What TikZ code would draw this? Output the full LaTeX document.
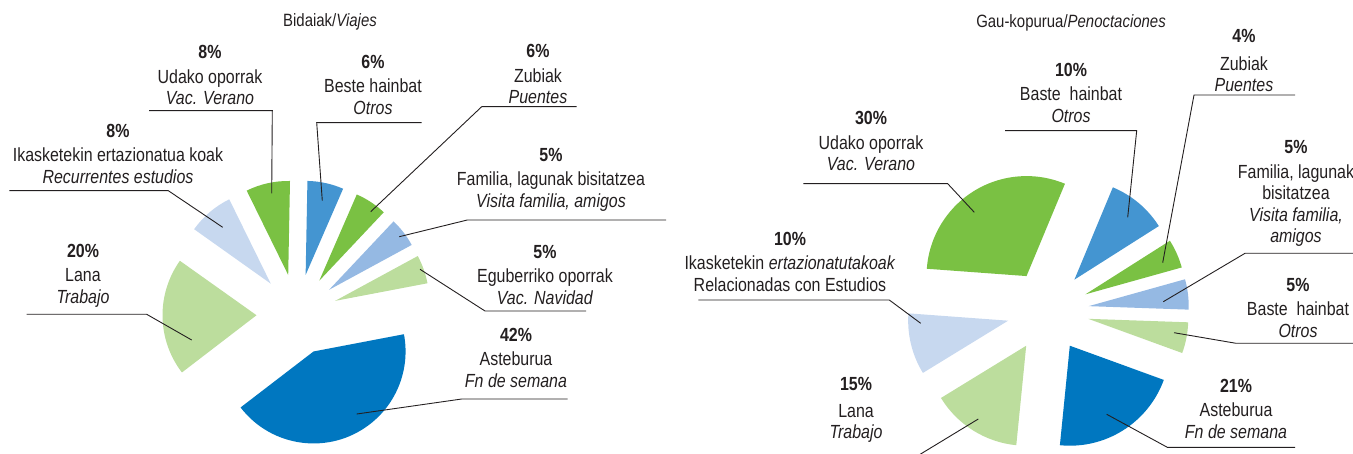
\documentclass[tikz,border=0pt]{standalone}
\usepackage{fontspec}
\setmainfont{Liberation Sans}[FakeStretch=0.84]
\usetikzlibrary{calc}

\definecolor{cDark}{HTML}{0077C0}
\definecolor{cMid}{HTML}{4495D1}
\definecolor{cGreen}{HTML}{7AC143}
\definecolor{cSky}{HTML}{95B9E3}
\definecolor{cPale}{HTML}{C7D8EF}
\definecolor{cLime}{HTML}{BCDD9D}
\definecolor{ink}{HTML}{231F20}

\tikzset{
  lab/.style={align=center, text=ink, inner sep=0pt,
    font=\fontsize{19}{21.5}\selectfont},
  ttl/.style={text=ink, inner sep=0pt, font=\fontsize{17.8}{20}\selectfont},
  leader/.style={draw=ink, line width=0.9pt}
}

% #1 centre, #2 shift, #3 start, #4 end, #5 radius, #6 colour
\newcommand{\Slice}[6]{%
  \fill[#6] ($(#1)+({(#3+#4)/2}:#2)$) -- ++(#3:#5)
    arc[start angle=#3, end angle=#4, radius=#5] -- cycle;}

\begin{document}
\begin{tikzpicture}[x=1pt,y=1pt]
  \useasboundingbox (0,0) rectangle (1353,453);

  \newcommand\Dl{40.5}
  \newcommand\Rl{94}
  \newcommand\Dr{41}
  \newcommand\Rr{100}

  \coordinate (cl) at (297,138.5);
  \coordinate (cr) at (1048,142);

  %% Bidaiak
  \Slice{cl}{\Dl}{10.8}{28.5}{\Rl}{cLime}    % Eguberri
  \Slice{cl}{\Dl}{28.5}{46.7}{\Rl}{cSky}     % Familia
  \Slice{cl}{\Dl}{46.7}{66.5}{\Rl}{cGreen}   % Zubiak
  \Slice{cl}{\Dl}{66.5}{88.9}{\Rl}{cMid}     % Beste
  \Slice{cl}{\Dl}{88.9}{116.2}{\Rl}{cGreen}  % Udako
  \Slice{cl}{\Dl}{116.2}{144.6}{\Rl}{cPale}  % Ikasketekin
  \Slice{cl}{\Dl}{144.6}{217.5}{\Rl}{cLime}  % Lana
  \Slice{cl}{\Dl}{217.5}{370.8}{92}{cDark}   % Asteburua

  %% Gau-kopurua
  \Slice{cr}{\Dr}{67.4}{175.8}{\Rr}{cGreen}  % Udako
  \Slice{cr}{\Dr}{175.8}{211.5}{\Rr}{cPale}  % Ikasketekin
  \Slice{cr}{\Dr}{211.5}{264.3}{\Rr}{cLime}  % Lana
  \Slice{cr}{\Dr}{264.3}{340}{\Rr}{cDark}    % Asteburua
  \Slice{cr}{\Dr}{340}{358}{\Rr}{cLime}      % Otros
  \Slice{cr}{\Dr}{358}{375.6}{\Rr}{cSky}     % Familia
  \Slice{cr}{\Dr}{375.6}{392.4}{\Rr}{cGreen} % Zubiak
  \Slice{cr}{\Dr}{392.4}{427.4}{\Rr}{cMid}   % Baste

  \node[ttl] (tl) at (330,431) {Bidaiak/\textit{Viajes}};
  \node[ttl] (tr) at (1071,430) {Gau-kopurua/\textit{Penoctaciones}};

  %% labels left
  \node[lab] (lu) at (210,378) {\textbf{8\%}\\[3pt] Udako oporrak\\ \textit{Vac. Verano}};
  \node[lab] (lo) at (373,368.3) {\textbf{6\%}\\[3pt] Beste hainbat\\ \textit{Otros}};
  \node[lab] (lz) at (538,378.8) {\textbf{6\%}\\[3pt] Zubiak\\ \textit{Puentes}};
  \node[lab] (lr) at (118,299.3) {\textbf{8\%}\\[3pt] Ikasketekin ertazionatua koak\\ \textit{Recurrentes estudios}};
  \node[lab] (lf) at (551,273.3) {\textbf{5\%}\\[3pt] Familia, lagunak bisitatzea\\ \textit{Visita familia, amigos}};
  \node[lab] (le) at (545,178.3) {\textbf{5\%}\\[3pt] Eguberriko oporrak\\ \textit{Vac. Navidad}};
  \node[lab] (ll) at (83,177.5) {\textbf{20\%}\\[3pt] Lana\\ \textit{Trabajo}};
  \node[lab] (la) at (516,95.5) {\textbf{42\%}\\[3pt] Asteburua\\ \textit{Fn de semana}};

  %% labels right
  \node[lab] (ru) at (871,311.7) {\textbf{30\%}\\[3pt] Udako oporrak\\ \textit{Vac. Verano}};
  \node[lab] (rb) at (1071,360.5) {\textbf{10\%}\\[3pt] Baste\ \ hainbat\\ \textit{Otros}};
  \node[lab] (rz) at (1244,392.2) {\textbf{4\%}\\[6pt] Zubiak\\ \textit{Puentes}};
  \node[lab] (rf) at (1296,259.2) {\textbf{5\%}\\[3pt] Familia, lagunak\\ bisitatzea\\ \textit{Visita familia,}\\ \textit{amigos}};
  \node[lab] (ri) at (790,191.3) {\textbf{10\%}\\[3pt] Ikasketekin \textit{ertazionatutakoak}\\ Relacionadas con Estudios};
  \node[lab] (ro) at (1298,145.5) {\textbf{5\%}\\[3pt] Baste\ \ hainbat\\ \textit{Otros}};
  \node[lab] (rl) at (856,42.7) {\textbf{15\%}\\[5pt] Lana\\ \textit{Trabajo}};
  \node[lab] (ra) at (1236,44.3) {\textbf{21\%}\\[3pt] Asteburua\\ \textit{Fn de semana}};

  %% leader points
  \coordinate (lu-a) at (149,342.3);   \coordinate (lu-b) at (272.3,342.3); \coordinate (lu-s) at (271.7,259.7);
  \coordinate (lo-a) at (421.7,330.3); \coordinate (lo-b) at (316.7,330.3); \coordinate (lo-s) at (322.3,252.3);
  \coordinate (lz-a) at (576.7,346.3); \coordinate (lz-b) at (481.7,346.3); \coordinate (lz-s) at (370.7,241.3);
  \coordinate (lr-a) at (9.3,262.3);   \coordinate (lr-b) at (168.3,262.3); \coordinate (lr-s) at (222.7,225.7);
  \coordinate (lf-a) at (666,233);     \coordinate (lf-b) at (467.3,233);   \coordinate (lf-s) at (399.3,216.3);
  \coordinate (le-a) at (586,142);     \coordinate (le-b) at (485,142);     \coordinate (le-s) at (420,183.7);
  \coordinate (ll-a) at (26.7,138.7);  \coordinate (ll-b) at (146.7,138.7); \coordinate (ll-s) at (191.7,113);
  \coordinate (la-a) at (567.7,54);    \coordinate (la-b) at (461.7,54);    \coordinate (la-s) at (356.7,39);

  \coordinate (ru-a) at (803.3,269.3); \coordinate (ru-b) at (947.7,269.3); \coordinate (ru-s) at (974.3,240.7);
  \coordinate (rb-a) at (1005,322.3);  \coordinate (rb-b) at (1136.7,322.3);\coordinate (rb-s) at (1127.7,235.7);
  \coordinate (rz-a) at (1295,358);    \coordinate (rz-b) at (1194,358);    \coordinate (rz-s) at (1162.7,190.3);
  \coordinate (rf-a) at (1353,199.7);  \coordinate (rf-b) at (1245,199.7);  \coordinate (rf-s) at (1163.3,151.3);
  \coordinate (ri-a) at (698.3,153);   \coordinate (ri-b) at (889.3,153);   \coordinate (ri-s) at (920.7,129.7);
  \coordinate (ro-a) at (1353,109.7);  \coordinate (ro-b) at (1236,109.7);  \coordinate (ro-s) at (1174,120.3);
  \coordinate (rl-b) at (919,-2);      \coordinate (rl-s) at (978.3,34);
  \coordinate (ra-a) at (1295,5.7);    \coordinate (ra-b) at (1167.3,5.7);  \coordinate (ra-s) at (1106.7,38.7);

  \draw[leader] (lu-a) -- (lu-b) -- (lu-s); % Udako
  \draw[leader] (lo-a) -- (lo-b) -- (lo-s); % Beste
  \draw[leader] (lz-a) -- (lz-b) -- (lz-s); % Zubiak
  \draw[leader] (lr-a) -- (lr-b) -- (lr-s); % Ikasketekin
  \draw[leader] (lf-a) -- (lf-b) -- (lf-s); % Familia
  \draw[leader] (le-a) -- (le-b) -- (le-s); % Eguberri
  \draw[leader] (ll-a) -- (ll-b) -- (ll-s); % Lana
  \draw[leader] (la-a) -- (la-b) -- (la-s); % Asteburua

  \draw[leader] (ru-a) -- (ru-b) -- (ru-s); % Udako
  \draw[leader] (rb-a) -- (rb-b) -- (rb-s); % Baste
  \draw[leader] (rz-a) -- (rz-b) -- (rz-s); % Zubiak
  \draw[leader] (rf-a) -- (rf-b) -- (rf-s); % Familia
  \draw[leader] (ri-a) -- (ri-b) -- (ri-s); % Ikasketekin
  \draw[leader] (ro-a) -- (ro-b) -- (ro-s); % Otros
  \draw[leader] (rl-b) -- (rl-s);           % Lana
  \draw[leader] (ra-a) -- (ra-b) -- (ra-s); % Asteburua

\end{tikzpicture}
\end{document}
